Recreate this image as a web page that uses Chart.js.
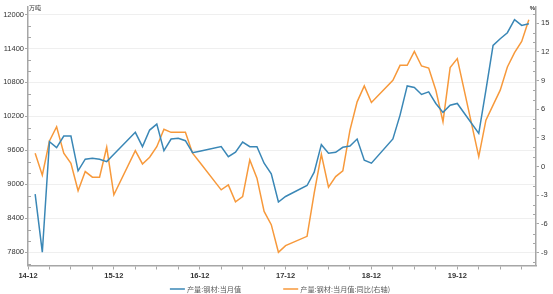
<!DOCTYPE html>
<html><head><meta charset="utf-8">
<script src="https://cdn.jsdelivr.net/npm/chart.js@4.4.1/dist/chart.umd.min.js"></script>
<style>html,body{margin:0;padding:0;background:#fff;overflow:hidden}canvas{display:block}</style>
</head><body>
<canvas id="c" width="553" height="294"></canvas>
<script>
// ---- data ----
const months = [
  '2015-01','2015-02','2015-03','2015-04','2015-05','2015-06','2015-07','2015-08','2015-09','2015-10','2015-11','2015-12',
  '2016-03','2016-04','2016-05','2016-06','2016-07','2016-08','2016-09','2016-10','2016-11','2016-12',
  '2017-03','2017-04','2017-05','2017-06','2017-07','2017-08','2017-09','2017-10','2017-11','2017-12',
  '2018-03','2018-04','2018-05','2018-06','2018-07','2018-08','2018-09','2018-10','2018-11','2018-12',
  '2019-03','2019-04','2019-05','2019-06','2019-07','2019-08','2019-09','2019-10','2019-11','2019-12',
  '2020-03','2020-04','2020-05','2020-06','2020-07','2020-08','2020-09','2020-10'
];
const steelOutput = [
  8827, 7800, 9752, 9647, 9853, 9853, 9237, 9443, 9460, 9443, 9400, 9530,
  9918, 9665, 9958, 10064, 9594, 9800, 9812, 9770, 9559, 9585,
  9665, 9488, 9566, 9747, 9665, 9665, 9372, 9184, 8686, 8784,
  8978, 9214, 9700, 9548, 9566, 9654, 9677, 9800, 9425, 9372,
  9800, 10222, 10738, 10710, 10587, 10632, 10428, 10270, 10398, 10428,
  9900, 10662, 11454, 11572, 11678, 11907, 11806, 11836
];
const steelYoY = [
  1.40, -0.90, 2.68, 4.17, 1.40, 0.35, -2.53, -0.52, -1.10, -1.10, 2.02, -2.95,
  1.67, 0.28, 0.98, 2.08, 3.90, 3.58, 3.58, 3.58, 1.40, 0.45,
  -2.43, -1.91, -3.68, -3.13, 0.70, -1.21, -4.69, -6.07, -8.96, -8.26,
  -7.29, -2.77, 1.29, -2.15, -1.04, -0.45, 3.82, 6.77, 8.44, 6.71,
  9.03, 10.59, 10.59, 12.05, 10.52, 10.31, 7.99, 4.69, 10.35, 11.29,
  1.04, 4.86, 6.43, 7.99, 10.42, 11.92, 13.09, 15.35
];
const xTickLabels = ['14-12','15-12','16-12','17-12','18-12','19-12'];
const leftTicks = [7800, 8400, 9000, 9600, 10200, 10800, 11400, 12000];
const rightTicks = [-9, -6, -3, 0, 3, 6, 9, 12, 15];
const seriesNames = ['产量:钢材:当月值', '产量:钢材:当月值:同比(右轴)'];
const leftUnit = '万吨';
const rightUnit = '%';

// ---- build ----
const BLUE = '#3a87b6', ORANGE = '#f7993b', AXIS = '#a6a6a6';
function monthOffset(s){ const p = s.split('-').map(Number); return (p[0]-2014)*12 + p[1] - 12; }
const xMax = 71;

const minorTicks = {
  id: 'minorTicks',
  afterDraw(chart){
    const ctx = chart.ctx, yl = chart.scales.yL, yr = chart.scales.yR;
    ctx.save();
    ctx.strokeStyle = AXIS; ctx.lineWidth = 1;
    for (let v = 7600; v <= 12000; v += 200){
      if (v % 600 === 0) continue;
      const y = Math.round(yl.getPixelForValue(v)) + 0.5;
      ctx.beginPath(); ctx.moveTo(yl.right, y); ctx.lineTo(yl.right + 3, y); ctx.stroke();
    }
    for (let v = -10; v <= 16; v += 1){
      if (v % 3 === 0) continue;
      const y = Math.round(yr.getPixelForValue(v)) + 0.5;
      ctx.beginPath(); ctx.moveTo(yr.left, y); ctx.lineTo(yr.left - 3, y); ctx.stroke();
    }
    // units
    ctx.fillStyle = '#333';
    ctx.font = '6px "Noto Sans CJK SC"';
    ctx.textBaseline = 'middle';
    ctx.textAlign = 'left';
    ctx.fillText(leftUnit, yl.right + 1, 7.5);
    ctx.textAlign = 'right';
    ctx.font = 'bold 6px "Liberation Sans"';
    ctx.fillText(rightUnit, yr.left - 1, 8);
    // legend
    const fs = 7.2;
    ctx.font = fs + 'px "Noto Sans CJK SC"';
    const items = chart.data.datasets.map(d => ({label: d.label, color: d.borderColor, w: ctx.measureText(d.label).width}));
    const lineW = 15, gap = 2, sep = 42;
    let total = 0;
    items.forEach((it, i) => { total += lineW + gap + it.w + (i ? sep : 0); });
    let x = 280 - total / 2;
    const ly = 289;
    items.forEach((it, i) => {
      if (i) x += sep;
      ctx.strokeStyle = it.color; ctx.lineWidth = 1.5;
      ctx.beginPath(); ctx.moveTo(x, ly); ctx.lineTo(x + lineW, ly); ctx.stroke();
      x += lineW + gap;
      ctx.fillStyle = '#595959'; ctx.textAlign = 'left'; ctx.textBaseline = 'middle';
      ctx.fillText(it.label, x, ly);
      x += it.w;
    });
    ctx.restore();
  }
};

new Chart(document.getElementById('c'), {
  type: 'line',
  data: {
    datasets: [
      { label: seriesNames[0], yAxisID: 'yL', borderColor: BLUE, backgroundColor: BLUE, borderWidth: 1.5,
        pointRadius: 0, tension: 0, data: months.map((m, i) => ({x: monthOffset(m), y: steelOutput[i]})) },
      { label: seriesNames[1], yAxisID: 'yR', borderColor: ORANGE, backgroundColor: ORANGE, borderWidth: 1.5,
        pointRadius: 0, tension: 0, data: months.map((m, i) => ({x: monthOffset(m), y: steelYoY[i]})) }
    ]
  },
  options: {
    responsive: false, animation: false, devicePixelRatio: 1,
    layout: { padding: { top: 6, left: 0, right: 0, bottom: 0 } },
    plugins: { legend: { display: false }, tooltip: { enabled: false } },
    scales: {
      x: {
        type: 'linear', min: 0, max: xMax,
        afterBuildTicks: s => { const t = []; for (let v = 0; v <= xMax; v += 3) t.push({value: v}); s.ticks = t; },
        afterFit: s => { s.height = 28.5; },
        ticks: { autoSkip: false, maxRotation: 0, padding: 2, color: '#333',
          font: { family: 'Liberation Sans', size: 7.5, weight: 'bold' },
          callback: v => (v % 12 === 0 ? xTickLabels[v / 12] : '') },
        grid: { drawOnChartArea: false, tickLength: 4, tickColor: AXIS, tickWidth: 1 },
        border: { color: AXIS, width: 1.5 }
      },
      yL: {
        type: 'linear', position: 'left', min: 7565, max: 12141,
        afterBuildTicks: s => { s.ticks = leftTicks.map(v => ({value: v})); },
        afterFit: s => { s.width = 28; },
        ticks: { padding: 1, color: '#333', font: { family: 'Liberation Sans', size: 7.5 },
          callback: v => String(v) },
        grid: { color: '#efefef', lineWidth: 1, tickLength: 3, tickColor: AXIS },
        border: { color: AXIS, width: 1.5 }
      },
      yR: {
        type: 'linear', position: 'right', min: -10.34, max: 16.74,
        afterBuildTicks: s => { s.ticks = rightTicks.map(v => ({value: v})); },
        afterFit: s => { s.width = 17; },
        ticks: { padding: 2, color: '#333', font: { family: 'Liberation Sans', size: 7.5 },
          callback: v => String(v) },
        grid: { drawOnChartArea: false, tickLength: 3, tickColor: AXIS },
        border: { color: AXIS, width: 1.5 }
      }
    }
  },
  plugins: [minorTicks]
});
</script>
</body></html>
